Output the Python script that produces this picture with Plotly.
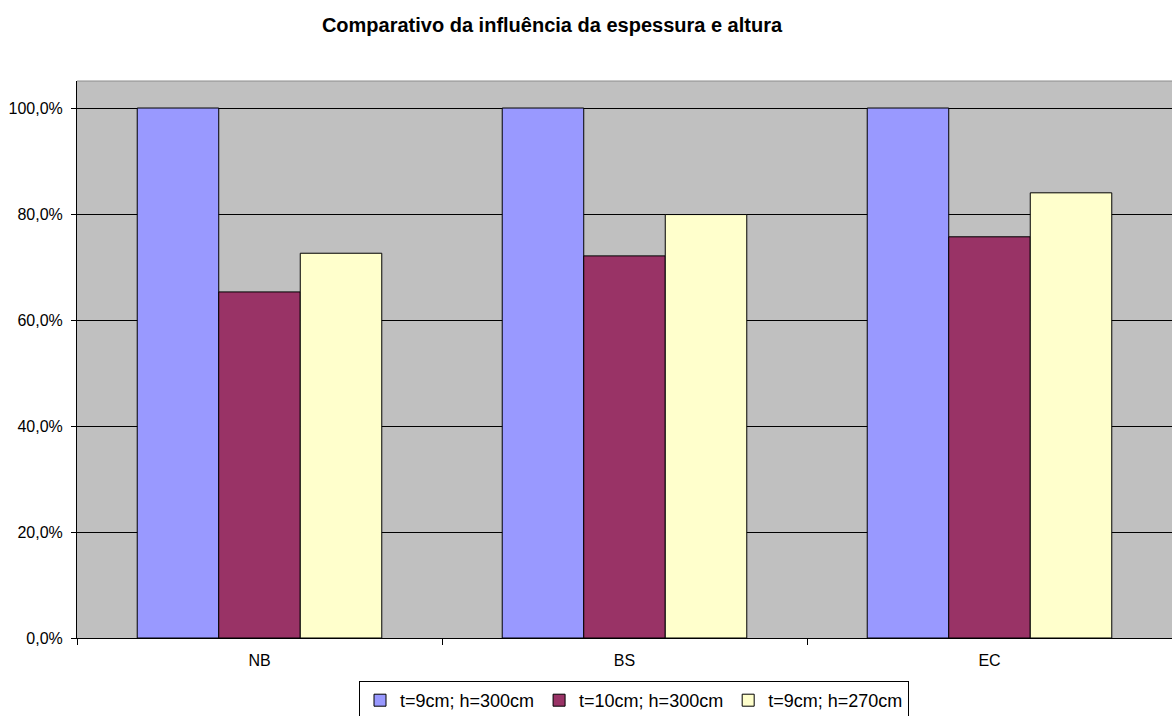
import plotly.graph_objects as go

categories = ["NB", "BS", "EC"]
series_names = ["t=9cm; h=300cm", "t=10cm; h=300cm", "t=9cm; h=270cm"]
t9_h300 = [1.000, 1.000, 1.000]
t10_h300 = [0.653, 0.721, 0.757]
t9_h270 = [0.726, 0.799, 0.840]
y_ticks = [0.0, 0.2, 0.4, 0.6, 0.8, 1.0]

colors = ["#9999FF", "#993366", "#FFFFCC"]
series_values = [t9_h300, t10_h300, t9_h270]

fig = go.Figure()
for name, vals, col in zip(series_names, series_values, colors):
    fig.add_trace(go.Bar(
        x=categories, y=vals, name=name,
        marker=dict(color=col, line=dict(color="#000000", width=1)),
    ))

font_family = "Liberation Sans, Arial, sans-serif"
fig.update_layout(
    width=1172, height=716,
    barmode="group", bargap=0.33, bargroupgap=0,
    paper_bgcolor="#FFFFFF", plot_bgcolor="#C0C0C0",
    separators=",.",
    margin=dict(l=77, r=0, t=81, b=78, autoexpand=False),
    font=dict(family=font_family, size=16, color="#000000"),
    title=dict(
        text="<b>Comparativo da influência da espessura e altura</b>",
        xref="container", x=552 / 1172, xanchor="center",
        yref="container", y=1 - 25 / 716, yanchor="middle",
        font=dict(family=font_family, size=20, color="#000000"),
    ),
    showlegend=True,
    legend=dict(
        orientation="h", x=(634 - 77) / 1095, xanchor="center",
        y=(638 - 681) / 557, yanchor="top",
        bordercolor="#000000", borderwidth=1, bgcolor="#FFFFFF",
        font=dict(family=font_family, size=18),
        itemwidth=30, traceorder="normal",
    ),
    xaxis=dict(
        showline=True, linecolor="#000000", linewidth=1,
        ticks="outside", ticklen=6, tickcolor="#000000", tickson="boundaries",
        showgrid=False, tickfont=dict(size=16), ticklabelstandoff=8,
    ),
    yaxis=dict(
        range=[0, 1.051], tickvals=y_ticks, tickformat=".1%",
        showline=True, linecolor="#000000", linewidth=1,
        ticks="outside", ticklen=5, tickcolor="#000000",
        showgrid=True, gridcolor="#000000", gridwidth=1,
        zeroline=False, tickfont=dict(size=16), ticklabelstandoff=5,
    ),
    shapes=[dict(
        type="line", xref="paper", yref="paper", x0=0, x1=1, y0=1, y1=1,
        line=dict(color="#8C8C8C", width=1), layer="above",
    )],
)

fig.write_html("out.html")
